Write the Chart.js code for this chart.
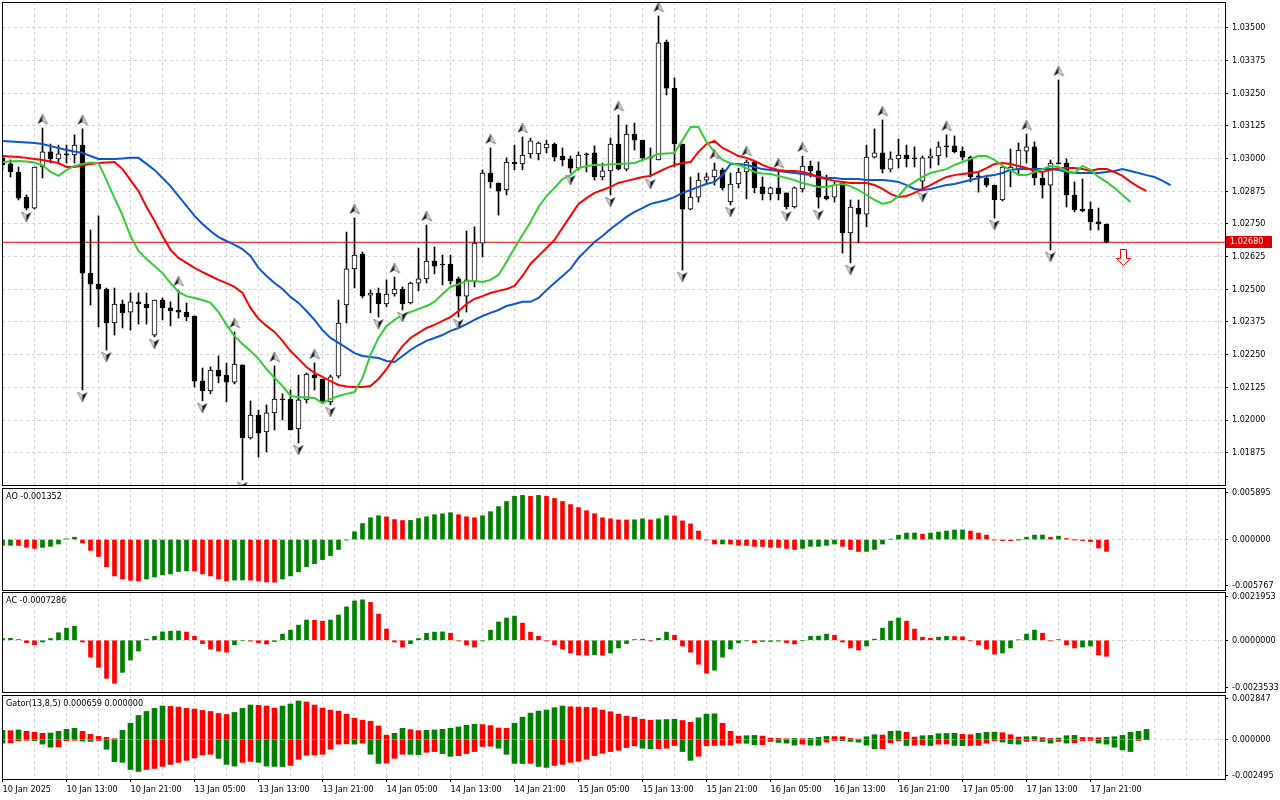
<!DOCTYPE html>
<html>
<head>
<meta charset="utf-8">
<script src="https://cdn.jsdelivr.net/npm/chart.js@4.4.1/dist/chart.umd.min.js"></script>
<style>
  html, body { margin: 0; padding: 0; background: #fff; }
  #wrap { position: relative; width: 1280px; height: 800px; overflow: hidden; }
  #wrap canvas { position: absolute; left: 0; top: 0; }
</style>
</head>
<body>
<div id="wrap">
  <canvas id="mainChart" width="1280" height="800"></canvas>
  <canvas id="aoChart" width="1280" height="800"></canvas>
  <canvas id="acChart" width="1280" height="800"></canvas>
  <canvas id="gatorChart" width="1280" height="800"></canvas>
</div>
<script>
// EURUSD H1, 10 Jan 05:00 .. 17 Jan 22:00 - one entry per bar
const xTickLabels = ["10 Jan 2025", "10 Jan 13:00", "10 Jan 21:00", "13 Jan 05:00", "13 Jan 13:00",
  "13 Jan 21:00", "14 Jan 05:00", "14 Jan 13:00", "14 Jan 21:00", "15 Jan 05:00", "15 Jan 13:00",
  "15 Jan 21:00", "16 Jan 05:00", "16 Jan 13:00", "16 Jan 21:00", "17 Jan 05:00", "17 Jan 13:00",
  "17 Jan 21:00"];

const priceTicks = [1.01875, 1.02000, 1.02125, 1.02250, 1.02375, 1.02500, 1.02625,
  1.02750, 1.02875, 1.03000, 1.03125, 1.03250, 1.03375, 1.03500];

const opens = [
  1.03003,1.02980,1.02949,1.02853,1.02811,1.02968,1.03026,1.02999,1.03018,1.03014,
  1.03052,1.02562,1.02520,1.02501,1.02371,1.02444,1.02413,1.02452,1.02444,1.02325,
  1.02459,1.02429,1.02421,1.02413,1.02398,1.02149,1.02111,1.02191,1.02172,1.02145,
  1.02211,1.01931,1.02019,1.01954,1.02027,1.02078,1.02080,1.01966,1.02077,1.02172,
  1.02157,1.02069,1.02168,1.02440,1.02578,1.02635,1.02478,1.02486,1.02444,1.02482,
  1.02501,1.02448,1.02524,1.02540,1.02608,1.02594,1.02597,1.02540,1.02474,1.02528,
  1.02677,1.02945,1.02907,1.02880,1.02987,1.02980,1.03018,1.03018,1.03041,1.03056,
  1.03010,1.02999,1.02964,1.03018,1.03022,1.02930,1.02953,1.03056,1.02960,1.03094,
  1.03071,1.03006,1.02995,1.03446,1.03270,1.03056,1.02807,1.02853,1.02918,1.02930,
  1.02957,1.02834,1.02903,1.02949,1.02987,1.02892,1.02865,1.02888,1.02869,1.02815,
  1.02884,1.02972,1.02953,1.02857,1.02853,1.02907,1.02716,1.02811,1.02788,1.03006,
  1.03022,1.02960,1.02999,1.03014,1.03000,1.02914,1.03003,1.03010,1.03046,1.03049,
  1.03029,1.03006,1.02934,1.02926,1.02899,1.02842,1.02957,1.02957,1.03029,1.03045,
  1.02926,1.02899,1.02983,1.02983,1.02861,1.02807,1.02807,1.02758,1.02750
];
const highs = [
  1.03014,1.02995,1.02968,1.02861,1.02968,1.03117,1.03056,1.03052,1.03052,1.03091,
  1.03114,1.02727,1.02781,1.02505,1.02505,1.02459,1.02486,1.02486,1.02486,1.02459,
  1.02467,1.02452,1.02497,1.02448,1.02398,1.02199,1.02203,1.02245,1.02218,1.02337,
  1.02211,1.02073,1.02038,1.02058,1.02207,1.02100,1.02115,1.02172,1.02180,1.02218,
  1.02157,1.02172,1.02459,1.02719,1.02773,1.02643,1.02497,1.02505,1.02536,1.02547,
  1.02509,1.02528,1.02658,1.02746,1.02662,1.02631,1.02631,1.02547,1.02723,1.02739,
  1.02957,1.03041,1.02907,1.03003,1.03052,1.03083,1.03079,1.03064,1.03071,1.03060,
  1.03041,1.03010,1.03026,1.03022,1.03049,1.02983,1.03079,1.03167,1.03129,1.03136,
  1.03071,1.03041,1.03546,1.03454,1.03309,1.03056,1.02930,1.02945,1.02945,1.02983,
  1.02964,1.02945,1.02964,1.02995,1.02987,1.02930,1.02892,1.02949,1.02869,1.02892,
  1.03010,1.02991,1.02987,1.02937,1.02911,1.02907,1.02842,1.02842,1.03052,1.03114,
  1.03148,1.03026,1.03075,1.03052,1.03045,1.03010,1.03037,1.03064,1.03091,1.03087,
  1.03045,1.03010,1.02949,1.02937,1.02899,1.02972,1.03037,1.03060,1.03094,1.03064,
  1.02949,1.02995,1.03301,1.02999,1.02911,1.02922,1.02834,1.02811,1.02750
];
const lows = [
  1.02957,1.02930,1.02842,1.02804,1.02807,1.02926,1.02983,1.02983,1.02983,1.02983,
  1.02115,1.02440,1.02356,1.02268,1.02325,1.02352,1.02344,1.02367,1.02367,1.02318,
  1.02383,1.02360,1.02390,1.02379,1.02126,1.02073,1.02100,1.02142,1.02069,1.02138,
  1.01771,1.01927,1.01858,1.01878,1.01962,1.02000,1.01962,1.01912,1.02065,1.02115,
  1.02065,1.02058,1.02161,1.02371,1.02505,1.02467,1.02410,1.02394,1.02433,1.02474,
  1.02421,1.02444,1.02494,1.02524,1.02559,1.02517,1.02520,1.02394,1.02413,1.02509,
  1.02624,1.02888,1.02784,1.02861,1.02957,1.02957,1.03003,1.02995,1.03022,1.02991,
  1.02972,1.02945,1.02957,1.02949,1.02918,1.02918,1.02861,1.02957,1.02953,1.03033,
  1.02991,1.02930,1.02995,1.03244,1.02968,1.02574,1.02804,1.02834,1.02907,1.02899,
  1.02880,1.02823,1.02888,1.02846,1.02869,1.02842,1.02842,1.02842,1.02807,1.02811,
  1.02872,1.02930,1.02811,1.02842,1.02834,1.02639,1.02601,1.02677,1.02739,1.03003,
  1.02945,1.02949,1.02964,1.02968,1.02968,1.02880,1.02964,1.02976,1.03006,1.03022,
  1.02995,1.02911,1.02872,1.02892,1.02773,1.02838,1.02892,1.02937,1.02983,1.02899,
  1.02849,1.02651,1.02980,1.02815,1.02796,1.02796,1.02727,1.02727,1.02677
];
const closes = [
  1.02976,1.02949,1.02849,1.02811,1.02968,1.03026,1.02999,1.03018,1.03014,1.03052,
  1.02562,1.02520,1.02501,1.02371,1.02444,1.02410,1.02452,1.02444,1.02429,1.02459,
  1.02429,1.02417,1.02413,1.02394,1.02149,1.02111,1.02191,1.02168,1.02145,1.02214,
  1.01931,1.02019,1.01950,1.02027,1.02080,1.02077,1.01962,1.02077,1.02176,1.02161,
  1.02069,1.02165,1.02371,1.02578,1.02631,1.02474,1.02486,1.02444,1.02482,1.02501,
  1.02444,1.02524,1.02540,1.02608,1.02589,1.02593,1.02532,1.02474,1.02536,1.02677,
  1.02945,1.02911,1.02876,1.02987,1.02980,1.03014,1.03068,1.03060,1.03056,1.03006,
  1.02995,1.02964,1.03014,1.03014,1.02930,1.02953,1.03056,1.02960,1.03094,1.03071,
  1.03003,1.03003,1.03443,1.03270,1.03056,1.02807,1.02853,1.02918,1.02930,1.02957,
  1.02888,1.02903,1.02949,1.02987,1.02888,1.02865,1.02888,1.02865,1.02815,1.02888,
  1.02972,1.02953,1.02853,1.02846,1.02899,1.02716,1.02815,1.02788,1.03006,1.03022,
  1.02960,1.02999,1.03014,1.02999,1.02999,1.03003,1.03010,1.03045,1.03045,1.03026,
  1.03006,1.02930,1.02930,1.02899,1.02842,1.02968,1.02968,1.03033,1.03045,1.02926,
  1.02899,1.02983,1.02980,1.02861,1.02804,1.02800,1.02758,1.02750,1.02680
];

// Alligator lines, already shifted forward (jaw 8, teeth 5, lips 3 bars)
const jaw = [
  1.03068,1.03066,1.03064,1.03062,1.03060,1.03056,1.03048,1.03041,1.03033,1.03027,
  1.03022,1.03010,1.02999,1.02999,1.02999,1.03001,1.03003,1.03003,1.02980,1.02957,
  1.02926,1.02895,1.02857,1.02819,1.02781,1.02750,1.02723,1.02700,1.02685,1.02670,
  1.02654,1.02628,1.02582,1.02551,1.02524,1.02501,1.02471,1.02448,1.02417,1.02383,
  1.02344,1.02314,1.02295,1.02276,1.02256,1.02245,1.02241,1.02237,1.02226,1.02222,
  1.02245,1.02268,1.02287,1.02303,1.02314,1.02325,1.02341,1.02352,1.02367,1.02383,
  1.02398,1.02410,1.02421,1.02436,1.02444,1.02452,1.02452,1.02467,1.02497,1.02524,
  1.02551,1.02578,1.02620,1.02651,1.02681,1.02704,1.02731,1.02754,1.02777,1.02796,
  1.02811,1.02827,1.02834,1.02842,1.02853,1.02869,1.02880,1.02892,1.02903,1.02911,
  1.02937,1.02980,1.02980,1.02976,1.02968,1.02960,1.02957,1.02953,1.02949,1.02945,
  1.02941,1.02937,1.02930,1.02926,1.02926,1.02922,1.02922,1.02922,1.02918,1.02918,
  1.02918,1.02915,1.02911,1.02899,1.02884,1.02880,1.02884,1.02892,1.02899,1.02903,
  1.02911,1.02918,1.02926,1.02934,1.02937,1.02945,1.02957,1.02960,1.02960,1.02960,
  1.02960,1.02960,1.02957,1.02949,1.02945,1.02945,1.02945,1.02945,1.02949,1.02953,
  1.02960,1.02953,1.02945,1.02937,1.02930,1.02915,1.02899
];
const teeth = [
  1.03010,1.03008,1.03006,1.03003,1.02999,1.02995,1.02989,1.02983,1.02968,1.02968,
  1.02974,1.02980,1.02983,1.02985,1.02987,1.02960,1.02918,1.02876,1.02815,1.02762,
  1.02704,1.02651,1.02620,1.02601,1.02582,1.02566,1.02551,1.02536,1.02524,1.02509,
  1.02486,1.02429,1.02387,1.02360,1.02337,1.02303,1.02264,1.02234,1.02203,1.02180,
  1.02165,1.02149,1.02134,1.02128,1.02126,1.02126,1.02130,1.02157,1.02195,1.02241,
  1.02283,1.02314,1.02333,1.02352,1.02364,1.02379,1.02394,1.02417,1.02444,1.02463,
  1.02474,1.02486,1.02494,1.02501,1.02513,1.02551,1.02597,1.02628,1.02658,1.02689,
  1.02735,1.02781,1.02827,1.02849,1.02869,1.02880,1.02892,1.02907,1.02915,1.02922,
  1.02930,1.02934,1.02949,1.02964,1.02976,1.02983,1.02987,1.03026,1.03056,1.03068,
  1.03041,1.03026,1.03010,1.03003,1.02991,1.02976,1.02964,1.02957,1.02953,1.02953,
  1.02949,1.02941,1.02930,1.02922,1.02915,1.02911,1.02907,1.02907,1.02907,1.02899,
  1.02884,1.02865,1.02853,1.02857,1.02869,1.02884,1.02899,1.02915,1.02930,1.02937,
  1.02941,1.02945,1.02949,1.02964,1.02980,1.02983,1.02980,1.02972,1.02964,1.02953,
  1.02949,1.02957,1.02964,1.02964,1.02964,1.02960,1.02953,1.02960,1.02960,1.02949,
  1.02934,1.02911,1.02892,1.02876
];
const lips = [
  1.02987,1.02989,1.02991,1.02989,1.02985,1.02976,1.02949,1.02934,1.02957,1.02972,
  1.02980,1.02985,1.02983,1.02918,1.02849,1.02784,1.02704,1.02647,1.02616,1.02589,
  1.02562,1.02524,1.02490,1.02474,1.02467,1.02459,1.02448,1.02413,1.02364,1.02321,
  1.02291,1.02264,1.02234,1.02195,1.02161,1.02130,1.02092,1.02088,1.02086,1.02084,
  1.02065,1.02080,1.02092,1.02100,1.02107,1.02161,1.02249,1.02314,1.02360,1.02383,
  1.02402,1.02413,1.02425,1.02436,1.02452,1.02482,1.02509,1.02520,1.02532,1.02532,
  1.02528,1.02536,1.02555,1.02605,1.02658,1.02708,1.02758,1.02815,1.02857,1.02888,
  1.02922,1.02937,1.02964,1.02972,1.02976,1.02976,1.02978,1.02980,1.02981,1.02983,
  1.02995,1.03006,1.03018,1.03020,1.03022,1.03071,1.03121,1.03121,1.03064,1.03026,
  1.02995,1.02983,1.02976,1.02964,1.02949,1.02943,1.02941,1.02934,1.02926,1.02918,
  1.02907,1.02899,1.02892,1.02892,1.02899,1.02903,1.02895,1.02880,1.02861,1.02842,
  1.02827,1.02834,1.02857,1.02892,1.02911,1.02930,1.02945,1.02953,1.02960,1.02976,
  1.02987,1.02999,1.03010,1.03010,1.02995,1.02972,1.02957,1.02937,1.02937,1.02949,
  1.02960,1.02972,1.02968,1.02953,1.02945,1.02972,1.02957,1.02930,1.02911,1.02888,
  1.02861,1.02834
];

// bars carrying a fractal arrow
const fractalUpBars = [5, 10, 22, 29, 34, 39, 44, 49, 53, 61, 65, 77, 82, 89, 93, 97, 100, 110, 118, 128, 132];
const fractalDownBars = [3, 10, 13, 19, 25, 30, 37, 41, 47, 50, 57, 71, 76, 81, 85, 91, 98, 102, 106, 115, 124, 131];

const aoValues = [
  -0.00066,-0.00066,-0.00067,-0.00089,-0.00101,-0.00089,-0.00078,-0.00051,0.00008,0.00027,
  -0.00039,-0.00124,-0.00194,-0.00311,-0.00416,-0.00451,-0.00466,-0.00474,-0.00451,-0.00428,
  -0.00404,-0.00393,-0.00365,-0.00358,-0.00359,-0.00393,-0.00416,-0.00451,-0.00474,-0.00463,
  -0.00462,-0.00464,-0.00474,-0.00485,-0.00487,-0.00451,-0.00416,-0.00369,-0.00311,-0.00276,
  -0.00229,-0.00183,-0.00113,-0.00004,0.00089,0.00183,0.00249,0.00272,0.00260,0.00229,
  0.00218,0.00219,0.00241,0.00260,0.00284,0.00295,0.00307,0.00284,0.00260,0.00249,
  0.00272,0.00319,0.00377,0.00435,0.00494,0.00505,0.00494,0.00505,0.00494,0.00470,
  0.00435,0.00400,0.00365,0.00330,0.00295,0.00249,0.00237,0.00225,0.00224,0.00226,
  0.00237,0.00225,0.00237,0.00272,0.00270,0.00214,0.00179,0.00097,-0.00005,-0.00051,
  -0.00050,-0.00052,-0.00066,-0.00067,-0.00078,-0.00079,-0.00089,-0.00090,-0.00101,-0.00113,
  -0.00101,-0.00078,-0.00077,-0.00066,-0.00051,-0.00078,-0.00113,-0.00136,-0.00135,-0.00113,
  -0.00051,0.00005,0.00051,0.00074,0.00075,0.00062,0.00074,0.00086,0.00097,0.00109,
  0.00110,0.00097,0.00074,0.00051,-0.00004,-0.00012,-0.00013,-0.00001,0.00027,0.00051,
  0.00052,0.00027,0.00039,0.00012,-0.00001,-0.00012,-0.00023,-0.00097,-0.001352
];
const acValues = [
  0.00008,0.00009,0.00003,-0.00011,-0.00020,-0.00008,0.00008,0.00034,0.00055,0.00064,
  -0.00008,-0.00077,-0.00123,-0.00173,-0.00196,-0.00146,-0.00090,-0.00049,0.00005,0.00018,
  0.00038,0.00041,0.00042,0.00037,0.00018,-0.00015,-0.00040,-0.00049,-0.00054,-0.00020,
  -0.00002,-0.00004,-0.00012,-0.00017,-0.00006,0.00028,0.00046,0.00069,0.00092,0.00091,
  0.00087,0.00092,0.00115,0.00152,0.00179,0.00184,0.00172,0.00119,0.00051,-0.00008,
  -0.00031,-0.00015,0.00008,0.00032,0.00037,0.00038,0.00032,-0.00003,-0.00021,-0.00031,
  -0.00003,0.00046,0.00083,0.00101,0.00110,0.00078,0.00037,0.00018,-0.00003,-0.00021,
  -0.00040,-0.00058,-0.00067,-0.00068,-0.00066,-0.00068,-0.00058,-0.00035,-0.00015,0.00003,
  0.00005,-0.00003,0.00009,0.00037,0.00023,-0.00026,-0.00054,-0.00109,-0.00150,-0.00136,
  -0.00077,-0.00040,-0.00012,-0.00003,-0.00011,-0.00006,-0.00005,-0.00004,-0.00011,-0.00017,
  -0.00002,0.00018,0.00019,0.00028,0.00023,-0.00008,-0.00035,-0.00044,-0.00026,0.00005,
  0.00055,0.00087,0.00101,0.00087,0.00051,0.00014,0.00009,0.00014,0.00018,0.00017,
  0.00016,-0.00003,-0.00021,-0.00040,-0.00063,-0.00058,-0.00035,0.00002,0.00028,0.00046,
  0.00032,-0.00003,0.00003,-0.00021,-0.00035,-0.00031,-0.00026,-0.00067,-0.0007286
];
const gatorUpper = [
  0.000601,0.000579,0.000622,0.000536,0.000472,0.000408,0.000429,0.000536,0.000665,0.000729,
  0.000536,0.000343,0.000215,0.000150,0.000064,0.000601,0.001051,0.001544,0.001802,0.001995,
  0.002145,0.002124,0.002081,0.001995,0.001952,0.001866,0.001802,0.001673,0.001609,0.001737,
  0.001995,0.002209,0.002188,0.002145,0.002016,0.002145,0.002274,0.002467,0.002402,0.002209,
  0.002016,0.001888,0.001823,0.001630,0.001373,0.001244,0.001180,0.000879,0.000300,0.000408,
  0.000729,0.000644,0.000579,0.000601,0.000622,0.000665,0.000729,0.000815,0.000922,0.000987,
  0.000965,0.000901,0.000751,0.000729,0.001051,0.001437,0.001695,0.001823,0.001888,0.002038,
  0.002145,0.002102,0.002081,0.002059,0.002038,0.001888,0.001780,0.001630,0.001502,0.001437,
  0.001308,0.001244,0.001266,0.001287,0.001308,0.001223,0.001115,0.001394,0.001630,0.001652,
  0.001051,0.000536,0.000236,0.000257,0.000279,0.000236,0.000107,0.000086,0.000064,0.000086,
  0.000064,0.000086,0.000150,0.000215,0.000204,0.000193,0.000086,0.000043,0.000193,0.000322,
  0.000300,0.000536,0.000558,0.000472,0.000172,0.000257,0.000279,0.000386,0.000397,0.000408,
  0.000343,0.000322,0.000408,0.000472,0.000483,0.000450,0.000322,0.000172,0.000193,0.000204,
  0.000129,0.000086,0.000107,0.000257,0.000279,0.000150,0.000139,0.000129,0.000150,0.000193,
  0.000279,0.000472,0.000536,0.000659
];
const gatorLower = [
  -0.000215,-0.000193,-0.000064,-0.000021,-0.000064,-0.000279,-0.000472,-0.000450,-0.000064,-0.000021,
  -0.000086,-0.000107,-0.000043,-0.000601,-0.001394,-0.001437,-0.001888,-0.002016,-0.001888,-0.001823,
  -0.001695,-0.001566,-0.001437,-0.001308,-0.001158,-0.000965,-0.000922,-0.001180,-0.001566,-0.001673,
  -0.001437,-0.001373,-0.001437,-0.001673,-0.001695,-0.001705,-0.001630,-0.001244,-0.000987,-0.000965,
  -0.000922,-0.000601,-0.000279,-0.000257,-0.000279,-0.000215,-0.000922,-0.001502,-0.001480,-0.001180,
  -0.000922,-0.000933,-0.000944,-0.000794,-0.000751,-0.000879,-0.001051,-0.001008,-0.000879,-0.000751,
  -0.000429,-0.000408,-0.000536,-0.000922,-0.001502,-0.001512,-0.001502,-0.001695,-0.001759,-0.001630,
  -0.001566,-0.001437,-0.001373,-0.001244,-0.001008,-0.000858,-0.000751,-0.000665,-0.000493,-0.000386,
  -0.000536,-0.000579,-0.000568,-0.000536,-0.000365,-0.000751,-0.001308,-0.001051,-0.000386,-0.000365,
  -0.000354,-0.000343,-0.000215,-0.000225,-0.000322,-0.000311,-0.000107,-0.000172,-0.000215,-0.000343,
  -0.000279,-0.000343,-0.000354,-0.000150,-0.000043,-0.000064,-0.000107,-0.000150,-0.000343,-0.000579,
  -0.000568,-0.000193,-0.000064,-0.000365,-0.000343,-0.000332,-0.000365,-0.000279,-0.000268,-0.000365,
  -0.000375,-0.000365,-0.000354,-0.000215,-0.000064,-0.000150,-0.000257,-0.000279,-0.000107,-0.000043,
  -0.000107,-0.000215,-0.000107,-0.000215,-0.000193,-0.000064,-0.000043,-0.000215,-0.000279,-0.000472,
  -0.000644,-0.000751,-0.000043,0
];

// ---- layout of the window (pixels) ----
const W = 1280, H = 800;
const AXIS_W = 55;             // price scale on the right
const BAR_PX = 8;              // one hourly bar
const X_MIN = -0.0625;
const X_MAX = X_MIN + (W - AXIS_W - 2) / BAR_PX;
const P_MAX = 1.035994, P_MIN = 1.017513;

const FONT_FAMILY = '"DejaVu Sans Condensed", "DejaVu Sans", sans-serif';
const FONT = { family: FONT_FAMILY, size: 9 };
const GRID = "#d4d4d4";
const UP_GREEN = "#008000";
const DOWN_RED = "#ff0000";

// frame around each sub window + its caption
const panelFrame = {
  id: "panelFrame",
  afterDraw(chart, args, opts) {
    const { ctx, chartArea: a } = chart;
    ctx.save();
    ctx.strokeStyle = "#000";
    ctx.lineWidth = 1;
    ctx.strokeRect(a.left + 0.5, a.top + 0.5, a.right - a.left, a.bottom - a.top);
    if (opts.title) {
      ctx.fillStyle = "#000";
      ctx.font = "9px " + FONT_FAMILY;
      ctx.textBaseline = "middle";
      ctx.fillText(opts.title, a.left + 4, a.top + 9);
    }
    ctx.restore();
  }
};

function timeScale(showLabels) {
  return {
    type: "linear", min: X_MIN, max: X_MAX, offset: false,
    afterBuildTicks: (s) => {
      s.ticks = [];
      for (let k = 0; k <= X_MAX; k += 4) s.ticks.push({ value: k });
    },
    afterFit: (s) => { s.height = showLabels ? 21 : 0; s.paddingLeft = 0; s.paddingRight = 0; },
    ticks: {
      display: showLabels, autoSkip: false, maxRotation: 0, minRotation: 0, align: "start",
      padding: 2, color: "#000", font: FONT,
      callback: (v) => (v % 8 === 0 && xTickLabels[v / 8]) || ""
    },
    grid: {
      offset: false, drawTicks: showLabels, tickLength: 3, tickWidth: 1, tickBorderDash: [],
      color: (c) => (c.tick && c.tick.value > 0 ? GRID : "transparent"),
      tickColor: (c) => (c.tick && c.tick.value % 8 === 0 && xTickLabels[c.tick.value / 8] ? "#000" : "transparent")
    },
    border: { display: false, dash: [3, 3] }
  };
}

function subScale(min, max, digits) {
  const inset = (max - min) * 0.045;
  return {
    position: "right", min: min, max: max,
    afterBuildTicks: (s) => { s.ticks = [{ value: max - inset }, { value: 0 }, { value: min + inset }]; },
    afterFit: (s) => { s.width = AXIS_W; s.paddingTop = 0; s.paddingBottom = 0; },
    ticks: {
      autoSkip: false, padding: 4, color: "#000", font: FONT,
      callback: (v) => (v === 0 ? 0 : v > 0 ? max : min).toFixed(digits)
    },
    grid: {
      tickLength: 3, tickBorderDash: [], tickColor: "#000",
      color: (c) => (c.tick && c.tick.value === 0 ? GRID : "transparent")
    },
    border: { display: false, dash: [3, 3] }
  };
}

function baseOptions(top, bottom, yScale, showTime, title) {
  return {
    responsive: false, animation: false, devicePixelRatio: 1, events: [],
    layout: { autoPadding: false, padding: { left: 2, right: 0, top: top, bottom: showTime ? 0 : H - bottom } },
    plugins: { legend: { display: false }, tooltip: { enabled: false }, panelFrame: { title: title } },
    scales: { x: timeScale(showTime), y: yScale }
  };
}

const asPoints = (arr) => arr.map((v, i) => ({ x: i, y: v }));

// fractal arrow glyphs; the glyph sits off-centre so it lands above the high / below the low
function fractalIcon(up) {
  const c = document.createElement("canvas");
  c.width = 12; c.height = 36;
  const g = c.getContext("2d");
  g.lineWidth = 1;
  const half = (pts, fill, stroke) => {
    g.beginPath();
    g.moveTo(pts[0][0], pts[0][1]);
    pts.slice(1).forEach((p) => g.lineTo(p[0], p[1]));
    g.closePath();
    g.fillStyle = fill; g.fill();
    if (stroke) { g.strokeStyle = stroke; g.stroke(); }
  };
  if (up) {
    half([[6, 4], [1, 14], [6, 11]], "#111");
    half([[6, 4], [11, 14], [6, 11]], "#e6e6e6", "#808080");
  } else {
    half([[6, 30], [1, 20], [6, 23]], "#e6e6e6", "#808080");
    half([[6, 30], [11, 20], [6, 23]], "#111");
  }
  return c;
}

// ---------------- main window ----------------
const lastClose = closes[closes.length - 1];

const lastPriceMarks = {
  id: "lastPriceMarks",
  afterDraw(chart) {
    const { ctx } = chart;
    const xs = chart.scales.x, ys = chart.scales.y;
    const y = ys.getPixelForValue(lastClose);
    ctx.save();
    ctx.fillStyle = "#e00000";
    ctx.fillRect(1226, Math.round(y) - 6, 46, 12);
    ctx.fillStyle = "#fff";
    ctx.font = "9px " + FONT_FAMILY;
    ctx.textBaseline = "middle";
    ctx.fillText(lastClose.toFixed(5), 1230, Math.round(y));
    // sell signal arrow, two bars after the last candle
    const ax = Math.round(xs.getPixelForValue(closes.length + 1)) + 0.5;
    const top = Math.round(ys.getPixelForValue(lows[lows.length - 1])) + 6.5;
    ctx.beginPath();
    ctx.moveTo(ax - 3, top); ctx.lineTo(ax + 3, top); ctx.lineTo(ax + 3, top + 9);
    ctx.lineTo(ax + 7, top + 9); ctx.lineTo(ax, top + 16); ctx.lineTo(ax - 7, top + 9);
    ctx.lineTo(ax - 3, top + 9); ctx.closePath();
    ctx.fillStyle = "#fff"; ctx.fill();
    ctx.strokeStyle = "#ff0000"; ctx.lineWidth = 1; ctx.stroke();
    ctx.restore();
  }
};

const bullish = closes.map((c, i) => c > opens[i]);

const mainOptions = baseOptions(2, 485, {
  position: "right", min: P_MIN, max: P_MAX,
  afterBuildTicks: (s) => { s.ticks = priceTicks.map((v) => ({ value: v })); },
  afterFit: (s) => { s.width = AXIS_W; s.paddingTop = 0; s.paddingBottom = 0; },
  ticks: { autoSkip: false, padding: 4, color: "#000", font: FONT, callback: (v) => v.toFixed(5) },
  grid: { color: GRID, tickColor: "#000", tickLength: 3, tickBorderDash: [] },
  border: { display: false, dash: [3, 3] }
}, false, "");

new Chart(document.getElementById("mainChart"), {
  type: "bar",
  data: {
    datasets: [
      {
        type: "line", label: "Fractals up", order: 0, showLine: false,
        data: fractalUpBars.map((k) => ({ x: k, y: highs[k] })),
        pointStyle: fractalIcon(true), pointRadius: 6
      },
      {
        type: "line", label: "Fractals down", order: 0, showLine: false,
        data: fractalDownBars.map((k) => ({ x: k, y: lows[k] })),
        pointStyle: fractalIcon(false), pointRadius: 6
      },
      {
        type: "line", label: "Lips", order: 1, data: asPoints(lips),
        borderColor: "#32cd32", borderWidth: 2, pointRadius: 0, tension: 0
      },
      {
        type: "line", label: "Teeth", order: 1, data: asPoints(teeth),
        borderColor: "#ff0000", borderWidth: 2, pointRadius: 0, tension: 0
      },
      {
        type: "line", label: "Jaw", order: 1, data: asPoints(jaw),
        borderColor: "#0a55d8", borderWidth: 2, pointRadius: 0, tension: 0
      },
      {
        label: "Bodies", order: 2, grouped: false, barThickness: 5, minBarLength: 1,
        data: opens.map((o, i) => ({ x: i, y: [o, closes[i]] })),
        backgroundColor: bullish.map((b) => (b ? "#fff" : "#000")),
        borderColor: "#000", borderWidth: 1, borderSkipped: false
      },
      {
        label: "Wicks", order: 3, grouped: false, barThickness: 1,
        data: lows.map((l, i) => ({ x: i, y: [l, highs[i]] })),
        backgroundColor: "#000", borderWidth: 0
      },
      {
        type: "line", label: "Bid", order: 4,
        data: [{ x: X_MIN, y: lastClose }, { x: X_MAX, y: lastClose }],
        borderColor: "#e00000", borderWidth: 1, pointRadius: 0
      }
    ]
  },
  options: mainOptions,
  plugins: [panelFrame, lastPriceMarks]
});

// ---------------- oscillators ----------------
const risingColors = (arr) => arr.map((v, i) => (i === 0 || v >= arr[i - 1] ? UP_GREEN : DOWN_RED));

new Chart(document.getElementById("aoChart"), {
  type: "bar",
  data: {
    datasets: [{
      label: "AO", data: asPoints(aoValues), grouped: false, barThickness: 4,
      backgroundColor: risingColors(aoValues), borderWidth: 0
    }]
  },
  options: baseOptions(488, 590, subScale(-0.005767, 0.005895, 6), false,
    "AO " + aoValues[aoValues.length - 1].toFixed(6)),
  plugins: [panelFrame]
});

new Chart(document.getElementById("acChart"), {
  type: "bar",
  data: {
    datasets: [{
      label: "AC", data: asPoints(acValues), grouped: false, barThickness: 4,
      backgroundColor: risingColors(acValues), borderWidth: 0
    }]
  },
  options: baseOptions(592, 692, subScale(-0.0023533, 0.0021953, 7), false,
    "AC " + acValues[acValues.length - 1].toFixed(7)),
  plugins: [panelFrame]
});

const lowerColors = gatorLower.map((v, i) =>
  (i === 0 || Math.abs(v) >= Math.abs(gatorLower[i - 1]) ? UP_GREEN : DOWN_RED));

new Chart(document.getElementById("gatorChart"), {
  type: "bar",
  data: {
    datasets: [
      {
        label: "Gator upper", data: asPoints(gatorUpper), grouped: false, barThickness: 5,
        backgroundColor: risingColors(gatorUpper), borderWidth: 0
      },
      {
        label: "Gator lower", data: asPoints(gatorLower), grouped: false, barThickness: 5,
        backgroundColor: lowerColors, borderWidth: 0
      }
    ]
  },
  options: baseOptions(695, 779, subScale(-0.002495, 0.002847, 6), true,
    "Gator(13,8,5) " + gatorUpper[gatorUpper.length - 1].toFixed(6) + " " +
    Math.abs(gatorLower[gatorLower.length - 1]).toFixed(6)),
  plugins: [panelFrame]
});
</script>
</body>
</html>
